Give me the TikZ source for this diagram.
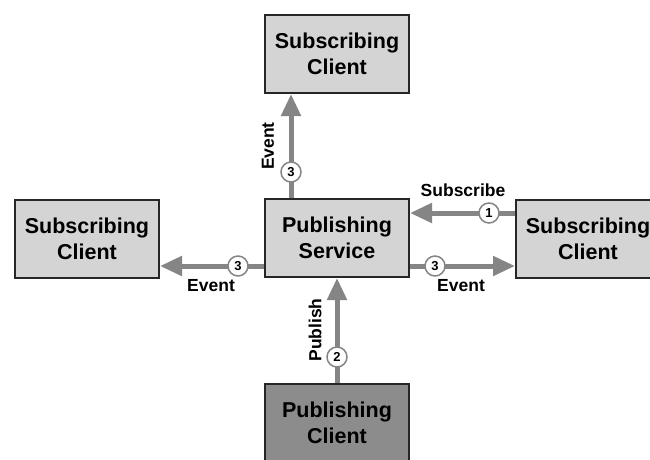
\documentclass[tikz,border=0pt]{standalone}
\usepackage{fontspec}
\setmainfont{Liberation Sans}
\usetikzlibrary{arrows.meta}
\definecolor{boxgray}{HTML}{D4D4D4}
\definecolor{darkbox}{HTML}{8C8C8C}
\definecolor{arrgray}{HTML}{858585}
\begin{document}
\begin{tikzpicture}[x=1pt,y=-1pt,
  box/.style={draw=black!85, line width=2pt, fill=boxgray, minimum width=144pt, minimum height=78pt, align=center, inner sep=0pt, font=\fontsize{21.5}{26}\selectfont\bfseries},
  arr/.style={draw=arrgray, line width=5pt, -{Triangle[length=22pt,width=19pt]}},
  num/.style={circle, draw=arrgray, line width=1.5pt, fill=white, minimum size=20pt, inner sep=0pt, font=\fontsize{13}{13}\selectfont\bfseries},
  lbl/.style={font=\fontsize{17.5}{17.5}\selectfont\bfseries, inner sep=0pt}]
\clip (0,0) rectangle (650,459);
\fill[white] (0,0) rectangle (650,459);
\node[box] (top) at (337,54) {Subscribing\\Client};
\node[box] (ps) at (337,238) {Publishing\\Service};
\node[box] (left) at (87,239) {Subscribing\\Client};
\node[box] (right) at (588,238.5) {Subscribing\\Client};
\node[box, fill=darkbox] (pub) at (337,423) {Publishing\\Client};
\coordinate (tx) at (291,0);
\coordinate (ys) at (0,213);
\coordinate (ye) at (0,266);
% top event
\draw[arr] (ps.north -| tx) -- (top.south -| tx);
\node[num] (n3t) at (291,172) {3};
\node[lbl, rotate=90] (lt) at (268,146) {Event};
% subscribe
\draw[arr] (right.west |- ys) -- (ps.east |- ys);
\node[num] (n1) at (489,213) {1};
\node[lbl] (ls) at (463,190) {Subscribe};
% right event
\draw[arr] (ps.east |- ye) -- (right.west |- ye);
\node[num] (n3r) at (435,266) {3};
\node[lbl] (lr) at (461,286) {Event};
% left event
\draw[arr] (ps.west |- ye) -- (left.east |- ye);
\node[num] (n3l) at (238,266) {3};
\node[lbl] (ll) at (211,286) {Event};
% publish
\draw[arr] (pub.north) -- (ps.south);
\node[num] (n2) at (337,357) {2};
\node[lbl, rotate=90] (lp) at (315,330) {Publish};
\end{tikzpicture}
\end{document}
